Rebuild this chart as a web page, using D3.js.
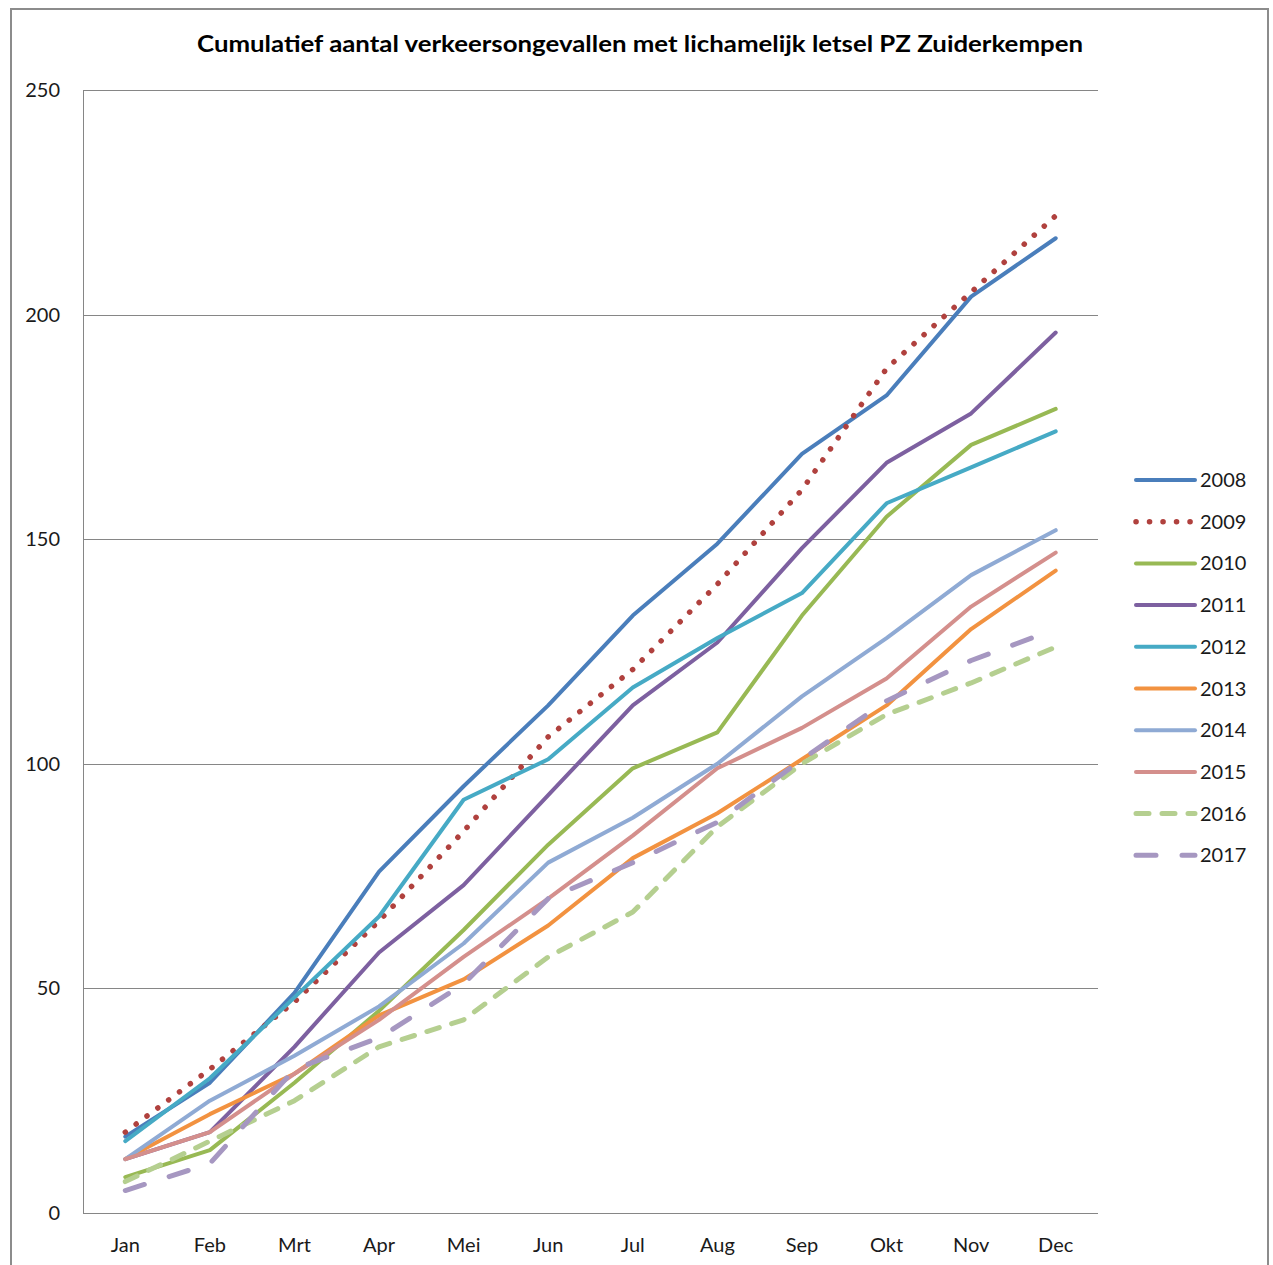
<!DOCTYPE html>
<html>
<head>
<meta charset="utf-8">
<script src="https://cdn.jsdelivr.net/npm/d3@7/dist/d3.min.js"></script>
<style>
  html, body { margin: 0; padding: 0; background: #fff; }
  svg { display: block; }
</style>
</head>
<body>
<svg id="chart" width="1273" height="1265"></svg>
<script>
const months = ["Jan","Feb","Mrt","Apr","Mei","Jun","Jul","Aug","Sep","Okt","Nov","Dec"];
const years = ["2008","2009","2010","2011","2012","2013","2014","2015","2016","2017"];
const v2008 = [17, 29, 49, 76, 95, 113, 133, 149, 169, 182, 204, 217];
const v2009 = [18, 32, 47, 65, 85, 106, 121, 140, 161, 188, 205, 222];
const v2010 = [8, 14, 29, 45, 63, 82, 99, 107, 133, 155, 171, 179];
const v2011 = [12, 18, 37, 58, 73, 93, 113, 127, 148, 167, 178, 196];
const v2012 = [16, 30, 48, 66, 92, 101, 117, 128, 138, 158, 166, 174];
const v2013 = [12, 22, 31, 44, 52, 64, 79, 89, 101, 113, 130, 143];
const v2014 = [12, 25, 35, 46, 60, 78, 88, 100, 115, 128, 142, 152];
const v2015 = [12, 18, 31, 43, 57, 70, 84, 99, 108, 119, 135, 147];
const v2016 = [7, 16, 25, 37, 43, 57, 67, 86, 100, 111, 118, 126];
const v2017 = [5, 11, 32, 39, 51, 70, 78, 87, 101, 114, 123, 130];
const yTicks = [0, 50, 100, 150, 200, 250];
const title = "Cumulatief aantal verkeersongevallen met lichamelijk letsel PZ Zuiderkempen";

const seriesValues = [v2008, v2009, v2010, v2011, v2012, v2013, v2014, v2015, v2016, v2017];
const colors = ["#4A7EBB","#B0413E","#98B954","#7D60A0","#46AAC5","#F29240","#8FAAD4","#D48F8C","#B5CF90","#A697C1"];
const dashes = [null, "0.1 13.4", null, null, null, null, null, null, "13 13", "20 26"];

const svg = d3.select("#chart");
const FONT = "Lato, 'Open Sans', sans-serif";

// outer frame
svg.append("rect").attr("x", 11).attr("y", 9).attr("width", 1257).attr("height", 1270)
  .attr("fill", "none").attr("stroke", "#8c8c8c").attr("stroke-width", 2);

const pLeft = 83, pRight = 1098, pTop = 90, pBottom = 1213;
const x = d3.scalePoint().domain(months).range([pLeft, pRight]).padding(0.5);
const y = d3.scaleLinear().domain([0, 250]).range([pBottom, pTop]);

// gridlines
svg.append("g").selectAll("line").data(yTicks.filter(t => t > 0)).join("line")
  .attr("x1", pLeft).attr("x2", pRight)
  .attr("y1", d => Math.round(y(d)) + 0.5).attr("y2", d => Math.round(y(d)) + 0.5)
  .attr("stroke", "#868686").attr("stroke-width", 1);

// axes lines
svg.append("line").attr("x1", pLeft + 0.5).attr("x2", pLeft + 0.5).attr("y1", pTop).attr("y2", pBottom)
  .attr("stroke", "#868686").attr("stroke-width", 1);
svg.append("line").attr("x1", pLeft).attr("x2", pRight).attr("y1", pBottom + 0.5).attr("y2", pBottom + 0.5)
  .attr("stroke", "#868686").attr("stroke-width", 1);

// y tick labels
svg.append("g").selectAll("text").data(yTicks).join("text")
  .attr("x", 60).attr("y", d => y(d)).attr("dy", "0.35em")
  .attr("text-anchor", "end").attr("font-family", FONT).attr("font-size", 20)
  .attr("fill", "#1a1a1a").text(d => d);

// x tick labels
svg.append("g").selectAll("text").data(months).join("text")
  .attr("x", d => x(d)).attr("y", 1252)
  .attr("text-anchor", "middle").attr("font-family", FONT).attr("font-size", 20)
  .attr("fill", "#1a1a1a").text(d => d);

// title
svg.append("text").attr("x", 640).attr("y", 52).attr("text-anchor", "middle")
  .attr("font-family", FONT).attr("font-weight", "bold").attr("font-size", 22)
  .attr("textLength", 886).attr("lengthAdjust", "spacingAndGlyphs")
  .attr("fill", "#000").text(title);

// lines
const widthOf = k => k === 1 ? 5.5 : (k >= 8 ? 5 : 4);
const line = d3.line().x((d, i) => x(months[i])).y(d => y(d));
years.forEach((yr, k) => {
  const p = svg.append("path").datum(seriesValues[k])
    .attr("d", line).attr("fill", "none")
    .attr("stroke", colors[k])
    .attr("stroke-width", widthOf(k))
    .attr("stroke-linejoin", "round")
    .attr("stroke-linecap", "round");
  if (dashes[k]) p.attr("stroke-dasharray", dashes[k]);
});

// legend
const lg = svg.append("g");
years.forEach((yr, k) => {
  const yy = 480 + k * 41.7;
  const l = lg.append("line").attr("x1", 1136).attr("x2", 1195).attr("y1", yy).attr("y2", yy)
    .attr("stroke", colors[k])
    .attr("stroke-width", widthOf(k))
    .attr("stroke-linecap", "round");
  if (dashes[k]) l.attr("stroke-dasharray", dashes[k]);
  lg.append("text").attr("x", 1200).attr("y", yy).attr("dy", "0.35em")
    .attr("font-family", FONT).attr("font-size", 20).attr("fill", "#1a1a1a").text(yr);
});
</script>
</body>
</html>
